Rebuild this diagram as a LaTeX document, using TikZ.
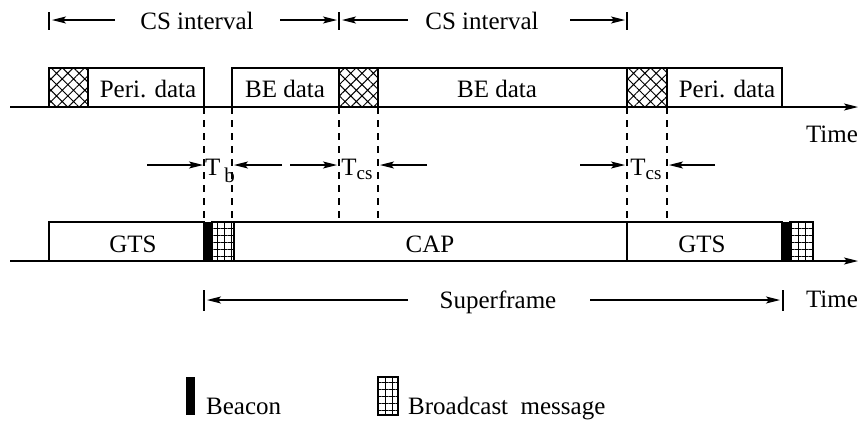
\documentclass[tikz,border=0pt]{standalone}
\usepackage{fontspec}
\setmainfont{Liberation Serif}
\usetikzlibrary{arrows.meta,patterns.meta}

\tikzset{
  slot/.style={draw,line width=1.2pt},
  csmark/.style={pattern={Hatch[angle=45,distance=8pt,line width=1pt]}},
  bcast/.style={pattern={Hatch[angle=0,distance=7pt,line width=1pt]}},
  guide/.style={line width=1.2pt,dash pattern=on 7pt off 6pt},
  span/.style={line width=1.2pt,-{Stealth[length=14pt,width=7pt,inset=3pt]}},
  lbl/.style={font=\fontsize{25}{29}\selectfont,inner sep=0pt,anchor=base}
}

\newcommand{\timeaxes}{
  % The two time lines
  \draw[span] (10,107) -- (858,107);
  \draw[span] (10,261) -- (858,261);
  \node[lbl] (time1) at (832,142) {Time};
  \node[lbl] (time2) at (832,307) {Time};
}

\begin{document}
\begin{tikzpicture}[x=1pt,y=-1pt]
  \useasboundingbox (0,0) rectangle (860,424);
  \timeaxes

  % CS intervals
  \draw[line width=1.2pt] (49,12) -- (49,30) (339,12) -- (339,30) (627,12) -- (627,30);
  \node[lbl] (cs1) at (197,29) {CS interval};
  \draw[span] (115,20) -- (52,20);
  \draw[span] (280,20) -- (337,20);
  \node[lbl] (cs2) at (482,29) {CS interval};
  \draw[span] (408,20) -- (342,20);
  \draw[span] (570,20) -- (625,20);

  % Upper row: data frames
  \draw[slot] (49,68) rectangle (204,107);
  \draw[slot,csmark] (49,68) rectangle (88,107);
  \draw[slot] (232,68) rectangle (627,107);
  \draw[slot,csmark] (339,68) rectangle (378,107);
  \draw[slot] (627,68) rectangle (782,107);
  \draw[slot,csmark] (627,68) rectangle (667,107);
  \node[lbl] (peri1) at (148,97) {Peri. data};
  \node[lbl] (be1) at (285,97) {BE data};
  \node[lbl] (be2) at (497,97) {BE data};
  \node[lbl] (peri2) at (727,97) {Peri. data};

  % Dashed guides
  \foreach \t in {204,232,339,378,627,667}
    \draw[guide] (\t,107) -- (\t,222);

  % Gaps
  \draw[span] (147,165) -- (203,165);
  \draw[span] (282,165) -- (234,165);
  \node[lbl] (tb) at (220,175) {T\,\raisebox{-7pt}{\fontsize{21}{24}\selectfont b}};
  \draw[span] (290,165) -- (337,165);
  \draw[span] (427,165) -- (380,165);
  \node[lbl] (tcs1) at (357,175) {T\raisebox{-4pt}{\fontsize{19}{20}\selectfont cs}};
  \draw[span] (580,165) -- (625,165);
  \draw[span] (715,165) -- (669,165);
  \node[lbl] (tcs2) at (646,175) {T\raisebox{-4pt}{\fontsize{19}{20}\selectfont cs}};

  % Lower row: superframe
  \draw[slot] (49,222) rectangle (204,261);
  \fill (204,222) rectangle (212,261);
  \draw[slot,bcast] (212,222) rectangle (234,261);
  \draw[slot] (234,222) rectangle (627,261);
  \draw[slot] (627,222) rectangle (782,261);
  \fill (782,222) rectangle (790,261);
  \draw[slot,bcast] (790,222) rectangle (813,261);
  \node[lbl] (gts1) at (133,252) {GTS};
  \node[lbl] (cap) at (430,252) {CAP};
  \node[lbl] (gts2) at (702,252) {GTS};

  % Superframe length
  \draw[line width=1.2pt] (204,290) -- (204,311) (783,290) -- (783,311);
  \node[lbl] (sf) at (498,308) {Superframe};
  \draw[span] (408,300) -- (207,300);
  \draw[span] (590,300) -- (780,300);

  % Legend
  \fill (186,377) rectangle (195,415);
  \node[lbl,anchor=base west] (beacon) at (206,414) {Beacon};
  \draw[slot,bcast] (378,377) rectangle (398,415);
  \node[lbl,anchor=base west] (bmsg) at (408,414) {Broadcast\ \ message};
\end{tikzpicture}
\end{document}
